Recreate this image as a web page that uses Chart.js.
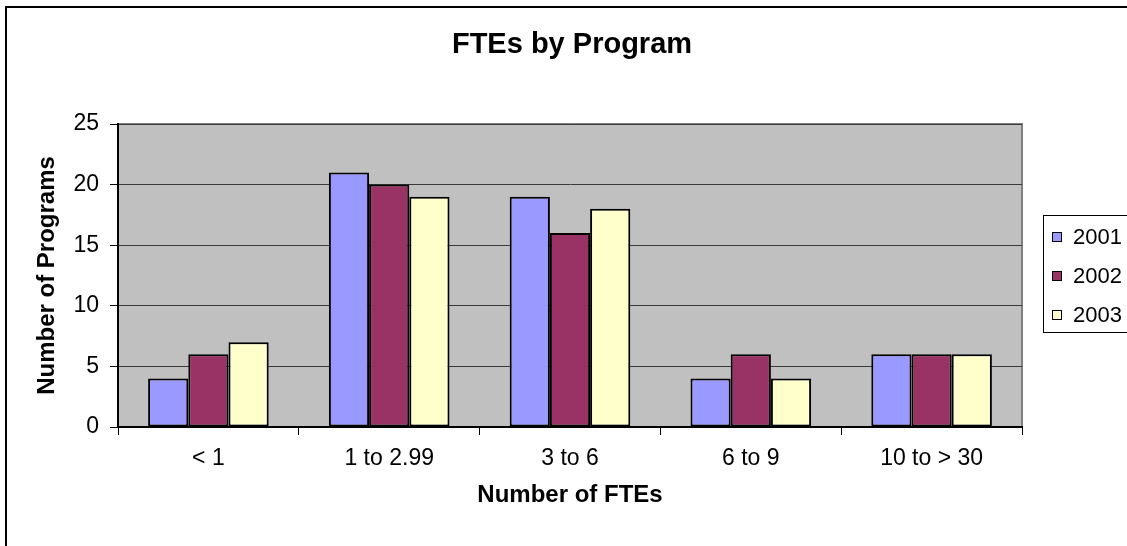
<!DOCTYPE html>
<html>
<head>
<meta charset="utf-8">
<script src="https://cdn.jsdelivr.net/npm/chart.js@4/dist/chart.umd.min.js"></script>
<style>
html,body{margin:0;padding:0;background:#fff;}
#wrap{width:1127px;height:546px;position:relative;}
</style>
</head>
<body>
<div id="wrap"><canvas id="c" width="1127" height="546"></canvas></div>
<script>
const categories = ['< 1', '1 to 2.99', '3 to 6', '6 to 9', '10 to > 30'];
const series2001 = [4, 21, 19, 4, 6];
const series2002 = [6, 20, 16, 6, 6];
const series2003 = [7, 19, 18, 4, 6];
const seriesNames = ['2001', '2002', '2003'];
const seriesColors = ['#9999FF', '#993366', '#FFFFCC'];
const yTicks = [0, 5, 10, 15, 20, 25];

const FONT = "'Liberation Sans', Arial, sans-serif";
const PLOT = {left: 118, right: 1022, top: 124, bottom: 427};

const decor = {
  id: 'decor',
  beforeDraw(chart) {
    const ctx = chart.ctx;
    const a = chart.chartArea;
    ctx.save();
    ctx.fillStyle = '#fff';
    ctx.fillRect(0, 0, chart.width, chart.height);
    ctx.fillStyle = '#C0C0C0';
    ctx.fillRect(a.left, a.top, a.right - a.left, a.bottom - a.top);
    ctx.strokeStyle = '#808080';
    ctx.lineWidth = 2;
    ctx.strokeRect(a.left, a.top, a.right - a.left, a.bottom - a.top);
    ctx.restore();
  },
  afterDraw(chart) {
    const ctx = chart.ctx;
    const a = chart.chartArea;
    ctx.save();
    // outer frame (right/bottom edges fall outside the canvas)
    ctx.strokeStyle = '#000';
    ctx.lineWidth = 2;
    ctx.beginPath();
    ctx.moveTo(6, chart.height + 5);
    ctx.lineTo(6, 7);
    ctx.lineTo(chart.width + 5, 7);
    ctx.stroke();
    // title
    ctx.fillStyle = '#000';
    ctx.font = "bold 29px " + FONT;
    ctx.textAlign = 'center';
    ctx.textBaseline = 'middle';
    ctx.fillText('FTEs by Program', (a.left + a.right) / 2 + 2, 45);
    // legend
    ctx.lineWidth = 1;
    ctx.strokeStyle = '#000';
    ctx.strokeRect(1043.5, 215.5, 120, 117);
    ctx.font = "22px " + FONT;
    ctx.textAlign = 'left';
    chart.data.datasets.forEach((ds, i) => {
      const cy = 237 + i * 39;
      const sy = Math.round(cy - 5) + 0.5;
      ctx.fillStyle = ds.backgroundColor;
      ctx.fillRect(1052.5, sy, 9, 9);
      ctx.strokeRect(1052.5, sy, 9, 9);
      ctx.fillStyle = '#000';
      ctx.fillText(ds.label, 1073, cy + 1);
    });
    ctx.restore();
  }
};

new Chart(document.getElementById('c'), {
  type: 'bar',
  data: {
    labels: categories,
    datasets: [series2001, series2002, series2003].map((d, i) => ({
      label: seriesNames[i],
      data: d,
      backgroundColor: seriesColors[i],
      borderColor: '#000',
      borderWidth: 2,
      borderSkipped: false,
      categoryPercentage: 0.667,
      barPercentage: 1.0
    }))
  },
  options: {
    responsive: false,
    animation: false,
    devicePixelRatio: 1,
    layout: {padding: {top: PLOT.top, right: 1127 - PLOT.right, bottom: 0, left: 0}},
    plugins: {legend: {display: false}, title: {display: false}, tooltip: {enabled: false}},
    scales: {
      x: {
        grid: {display: true, drawOnChartArea: false, offset: true, tickLength: 8, tickColor: '#000', lineWidth: 1},
        border: {display: true, color: '#000', width: 2},
        ticks: {color: '#000', font: {family: FONT, size: 23}, padding: 10},
        title: {display: true, text: 'Number of FTEs', color: '#000', font: {family: FONT, size: 24, weight: 'bold'}, padding: {top: 0, bottom: 36}},
        afterFit(s) { s.height = 546 - PLOT.bottom; }
      },
      y: {
        min: 0, max: 25,
        afterBuildTicks(s) { s.ticks = yTicks.map(v => ({value: v})); },
        grid: {color: '#3a3a3a', lineWidth: 1, tickLength: 8, tickColor: '#000'},
        border: {display: true, color: '#000', width: 2},
        ticks: {color: '#000', font: {family: FONT, size: 23}, padding: 11},
        title: {display: true, text: 'Number of Programs', color: '#000', font: {family: FONT, size: 24, weight: 'bold'}, padding: {top: 33, bottom: 0}},
        afterFit(s) { s.width = PLOT.left; }
      }
    }
  },
  plugins: [decor]
});
</script>
</body>
</html>
